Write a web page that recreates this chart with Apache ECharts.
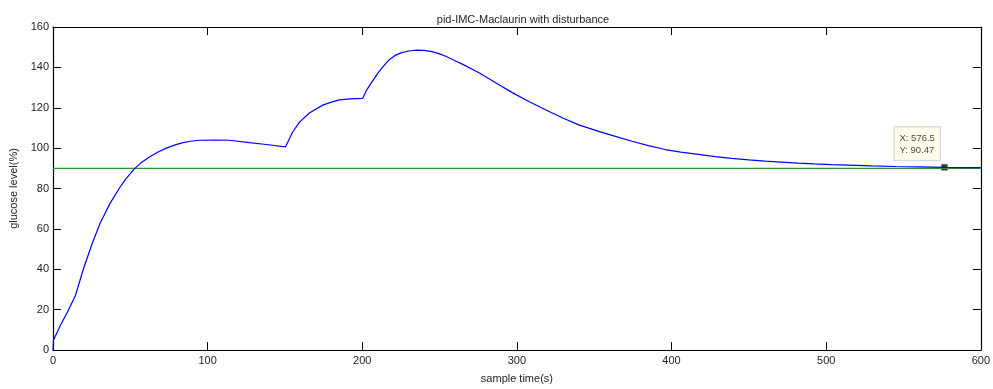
<!DOCTYPE html>
<html>
<head>
<meta charset="utf-8">
<script src="https://cdn.jsdelivr.net/npm/echarts@6/dist/echarts.min.js"></script>
<style>
  html, body { margin: 0; padding: 0; background: #fff; }
  #chart { width: 993px; height: 389px; }
</style>
</head>
<body>
<div id="chart"></div>
<script>
// glucose response (sample time, level)
const sampleTime = [0, 0.3, 5, 10, 14.5, 19.6, 25, 30.3, 36.8, 43.2, 47, 52.5, 57, 62.6, 68, 73.3, 79, 84.1, 89, 94.8,
  105, 114, 127, 137.9, 150.3, 155, 159.4, 165.8, 174.4, 180, 185.2, 192, 200.2,
  203, 206.6, 210, 213, 217, 221, 225, 230, 235, 240, 245, 250, 254, 260, 265, 275.5, 286, 297, 308, 318.5,
  330, 340, 352.9, 361.5, 374.4, 385, 395.9, 406, 417.4, 428, 438.9, 450, 460.5, 471, 481.9, 492, 503.4, 514.2,
  530, 545, 560, 576.5, 590, 600]
const glucose = [0, 5, 12.5, 19.8, 27, 40, 52, 62.5, 72.5, 80.5, 84.6, 89.6, 92.8, 95.7, 98.1, 100, 101.6, 102.7, 103.4, 103.9,
  104, 103.9, 102.7, 101.8, 100.6, 108, 112.9, 117.4, 121.3, 122.8, 123.9, 124.4, 124.6,
  129, 133.2, 137, 140, 143.5, 145.8, 147.2, 148.1, 148.5, 148.4, 147.8, 146.7, 145.5, 143.3, 141.5, 137.3, 132.5, 127.5, 123, 119,
  114.8, 111.5, 108.3, 106.3, 103.4, 101.2, 99.3, 98, 96.9, 95.8, 94.9, 94.2, 93.6, 93.1, 92.6, 92.2, 91.8, 91.6,
  91.2, 90.9, 90.7, 90.47, 90.35, 90.3]
const setPoint = [[0, 90], [600, 90]]
const tipPoint = [576.5, 90.47]

const font = 'Liberation Sans, Arial, sans-serif'
const chart = echarts.init(document.getElementById('chart'))

const tickStyle = { inside: true, length: 8, lineStyle: { color: '#000', width: 1 } }
const lineStyle = { onZero: false, lineStyle: { color: '#000', width: 1.2 } }

chart.setOption({
  animation: false,
  title: {
    text: 'pid-IMC-Maclaurin with disturbance',
    left: 518, top: 9, textAlign: 'center',
    textStyle: { fontFamily: font, fontSize: 11, fontWeight: 'normal', color: '#222' }
  },
  grid: { left: 53, right: 10, top: 27, bottom: 35, show: false },
  xAxis: [
    {
      type: 'value', min: 0, max: 600, interval: 100, position: 'bottom',
      name: 'sample time(s)', nameLocation: 'middle', nameGap: 23,
      nameTextStyle: { fontFamily: font, fontSize: 11, color: '#222' },
      axisLine: lineStyle, axisTick: tickStyle,
      axisLabel: { fontFamily: font, fontSize: 11, color: '#222', margin: 5 },
      splitLine: { show: false }
    },
    {
      type: 'value', min: 0, max: 600, interval: 100, position: 'top',
      axisLine: lineStyle, axisTick: tickStyle, axisLabel: { show: false }, splitLine: { show: false }
    }
  ],
  yAxis: [
    {
      type: 'value', min: 0, max: 160, interval: 20, position: 'left',
      name: 'glucose level(%)', nameLocation: 'middle', nameGap: 27,
      nameTextStyle: { fontFamily: font, fontSize: 11, color: '#222' },
      axisLine: lineStyle, axisTick: tickStyle,
      axisLabel: { fontFamily: font, fontSize: 11, color: '#222', margin: 4 },
      splitLine: { show: false }
    },
    {
      type: 'value', min: 0, max: 160, interval: 20, position: 'right',
      axisLine: lineStyle, axisTick: tickStyle, axisLabel: { show: false }, splitLine: { show: false }
    }
  ],
  series: [
    {
      type: 'line', data: setPoint, symbol: 'none',
      lineStyle: { color: '#2a9a2a', width: 1.2 }
    },
    {
      type: 'line', data: sampleTime.map((t, i) => [t, glucose[i]]), symbol: 'none',
      lineStyle: { color: '#0000ff', width: 1.2 }
    },
    {
      type: 'scatter', data: [tipPoint], symbol: 'rect', symbolSize: 7,
      itemStyle: { color: '#000', borderColor: '#ffffe0', borderWidth: 1 },
      label: {
        show: true, position: [-46, -36], align: 'left', verticalAlign: 'top',
        formatter: 'X: ' + tipPoint[0] + '\nY: ' + tipPoint[1],
        fontFamily: font, fontSize: 9.5, color: '#111', lineHeight: 12,
        backgroundColor: '#ffffe6', borderColor: '#c8c8c8', borderWidth: 1, padding: [5, 5, 4, 5]
      }
    }
  ]
})
</script>
</body>
</html>
